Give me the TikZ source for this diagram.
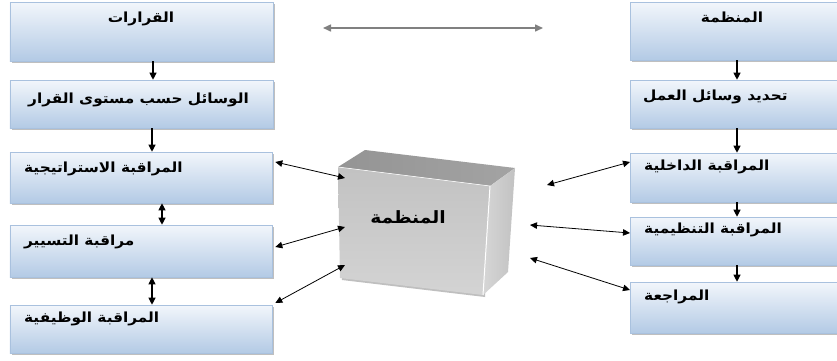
\documentclass[tikz,border=0pt]{standalone}
\usepackage{fontspec}
\newfontfamily\arabicfont[Script=Arabic,FakeStretch=1.1]{DejaVu Sans}
\TeXXeTstate=1
\usetikzlibrary{arrows.meta,shadows}
\definecolor{boxtop}{HTML}{F2F6FB}
\definecolor{boxbot}{HTML}{B3CAE5}
\definecolor{boxedge}{HTML}{A9C1DE}
\newcommand{\ar}[1]{\arabicfont\bfseries\beginR #1\endR}
\tikzset{
  panel/.style={rectangle, draw=boxedge, line width=0.6bp, top color=boxtop, bottom color=boxbot,
    drop shadow={shadow xshift=1.8bp, shadow yshift=-1.8bp, fill=black!45, opacity=0.55},
    inner sep=0pt},
  lbl/.style={inner sep=0pt, font=\fontsize{14}{16}\selectfont, text=black},
  down/.style={-{Triangle[length=7bp,width=7bp]}, line width=1.1bp},
  both/.style={{Triangle[length=7bp,width=6.5bp]}-{Triangle[length=7bp,width=6.5bp]}, line width=0.8bp},
  bothv/.style={{Triangle[length=7bp,width=7bp]}-{Triangle[length=7bp,width=7bp]}, line width=1.1bp}
}
\begin{document}
\begin{tikzpicture}[x=1bp,y=-1bp]
\clip (0,0) rectangle (837,360);
\fill[white] (0,0) rectangle (837,360);

% left column
\node[panel, minimum width=263bp, minimum height=59bp] (b1) at (141.5,31.5) {};
\node[panel, minimum width=263bp, minimum height=48bp] (b2) at (141.5,104) {};
\node[panel, minimum width=262bp, minimum height=51bp] (b3) at (141,177.5) {};
\node[panel, minimum width=262bp, minimum height=52bp] (b4) at (141,251) {};
\node[panel, minimum width=262bp, minimum height=48bp] (b5) at (141,329) {};

\node[lbl] (t1) at (141,19) {\ar{القرارات}};
\node[lbl, anchor=west] (t2) at (28,100) {\ar{الوسائل حسب مستوى القرار}};
\node[lbl, anchor=west] (t3) at (24,169) {\ar{المراقبة الاستراتيجية}};
\node[lbl, anchor=west] (t4) at (24,242) {\ar{مراقبة التسيير}};
\node[lbl, anchor=west] (t5) at (24,319) {\ar{المراقبة الوظيفية}};

% right column
\node[panel, minimum width=215bp, minimum height=58bp] (r1) at (737.5,31) {};
\node[panel, minimum width=215bp, minimum height=48bp] (r2) at (737.5,104) {};
\node[panel, minimum width=215bp, minimum height=49bp] (r3) at (737.5,177.5) {};
\node[panel, minimum width=215bp, minimum height=48bp] (r4) at (737.5,241) {};
\node[panel, minimum width=215bp, minimum height=51bp] (r5) at (737.5,307.5) {};

\node[lbl] (s1) at (732,17) {\ar{المنظمة}};
\node[lbl, anchor=west] (s2) at (643,97) {\ar{تحديد وسائل العمل}};
\node[lbl, anchor=west] (s3) at (644,167) {\ar{المراقبة الداخلية}};
\node[lbl, anchor=west] (s4) at (644,230) {\ar{المراقبة التنظيمية}};
\node[lbl, anchor=west] (s5) at (644,297) {\ar{المراجعة}};

% central block
\fill[black!25] (339.5,169) -- (492,188) -- (485,297) -- (342,280) -- cycle;
\shade[top color=black!24, bottom color=black!17] (338,167) -- (490,186) -- (483,295) -- (340,278) -- cycle;
\shade[left color=black!42, right color=black!36] (365,150) -- (515,168) -- (490,186) -- (338,167) -- cycle;
\shade[left color=black!16, right color=black!24] (490,186) -- (515,168) -- (508,272) -- (483,295) -- cycle;
\draw[white, line width=1bp] (490,186) -- (483,295);
\draw[white, line width=0.6bp] (338,167) -- (490,186);
\node[inner sep=0pt, font=\fontsize{17}{19}\selectfont] (org) at (408,217) {\ar{المنظمة}};

\coordinate (c1) at (345,178);
\coordinate (c2) at (345,227);
\coordinate (c3) at (345,265);
\coordinate (d1) at (547,185);
\coordinate (d2) at (530,225);
\coordinate (d3) at (530,258);
\coordinate (h1) at (323,28);
\coordinate (h2) at (543,28);

% connectors
\draw[down] (b1.south -| 153,0) -- (b2.north -| 153,0);
\draw[down] (b2.south -| 152,0) -- (b3.north -| 152,0);
\draw[bothv] (b3.south -| 162,0) -- (b4.north -| 162,0);
\draw[bothv] (b4.south -| 152,0) -- (b5.north -| 152,0);

\draw[down] (r1.south -| 737,0) -- (r2.north -| 737,0);
\draw[down] (r2.south -| 737,0) -- (r3.north -| 737,0);
\draw[down] (r3.south -| 737,0) -- (r4.north -| 737,0);
\draw[down] (r4.south -| 737,0) -- (r5.north -| 737,0);

\draw[both] ([xshift=3bp,yshift=15.5bp]b3.east) -- (c1);
\draw[both] ([xshift=3bp,yshift=4bp]b4.east) -- (c2);
\draw[both] ([xshift=3bp,yshift=26bp]b5.east) -- (c3);

\draw[both] ([yshift=15.5bp]r3.west -| 630,0) -- (d1);
\draw[both] ([yshift=8bp]r4.west -| 630,0) -- (d2);
\draw[both] ([yshift=17.5bp]r5.west -| 630,0) -- (d3);

\draw[{Triangle[length=8bp,width=7bp]}-{Triangle[length=8bp,width=7bp]}, draw=black!50, line width=1.5bp] (h1) -- (h2);
\end{tikzpicture}
\end{document}
